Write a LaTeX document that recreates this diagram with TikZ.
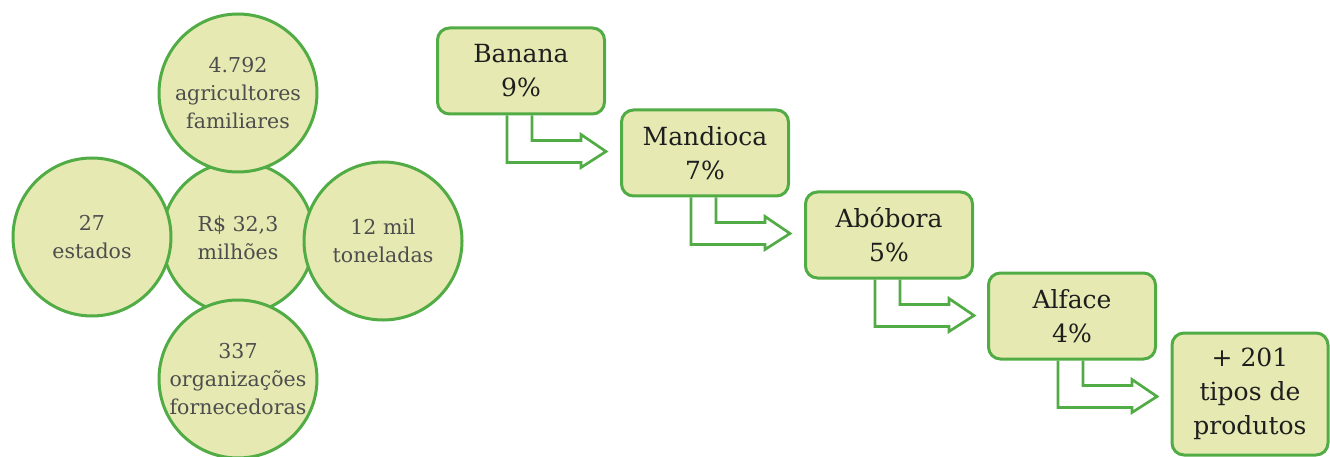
\documentclass[tikz,border=0pt]{standalone}
\usepackage{fontspec}
\setmainfont{DejaVu Serif}
\usetikzlibrary{calc}
\definecolor{gfill}{HTML}{E6EAB2}
\definecolor{gline}{HTML}{52AC45}
\definecolor{ctext}{HTML}{4D4D4D}
\definecolor{btext}{HTML}{1E1E1E}
\begin{document}
\begin{tikzpicture}[x=1pt,y=-1pt,
  bubble/.style={circle,draw=gline,fill=gfill,line width=3pt,minimum size=158pt,inner sep=0pt,text=ctext,align=center,font=\fontsize{20.5}{28}\selectfont},
  stepbox/.style={rectangle,rounded corners=12pt,draw=gline,fill=gfill,line width=3pt,minimum width=167pt,minimum height=86pt,inner sep=0pt,text=btext,align=center,font=\fontsize{25}{34}\selectfont},
  bentarrow/.style={draw=gline,line width=2.7pt,line join=miter}]
\useasboundingbox (0,0) rectangle (1330,457);
% circles
\node[bubble,minimum size=152pt] (mid) at (238,238) {R\$ 32,3\\milhões};
\node[bubble] (top) at (238,93) {4.792\\agricultores\\familiares};
\node[bubble] (left) at (92,237) {27\\estados};
\node[bubble] (right) at (383,241) {12 mil\\toneladas};
\node[bubble] (bot) at (238,379) {337\\organizações\\fornecedoras};
% boxes
\node[stepbox] (b1) at (521,71) {Banana\\9\%};
\node[stepbox] (b2) at (705,153) {Mandioca\\7\%};
\node[stepbox] (b3) at (889,235) {Abóbora\\5\%};
\node[stepbox] (b4) at (1072,316) {Alface\\4\%};
\node[stepbox,minimum width=156pt,minimum height=122pt] (b5) at (1250,394) {+ 201\\tipos de\\produtos};
% bent arrows
\foreach \s in {b1,b2,b3,b4}{
  \draw[bentarrow] ($(\s.south west)+(71,0)$) -- ++(0,47) -- ++(74,0) -- ++(0,5) -- ++(25,-16) -- ++(-25,-17) -- ++(0,6) -- ++(-49,0) -- ++(0,-25);
}
\end{tikzpicture}
\end{document}
